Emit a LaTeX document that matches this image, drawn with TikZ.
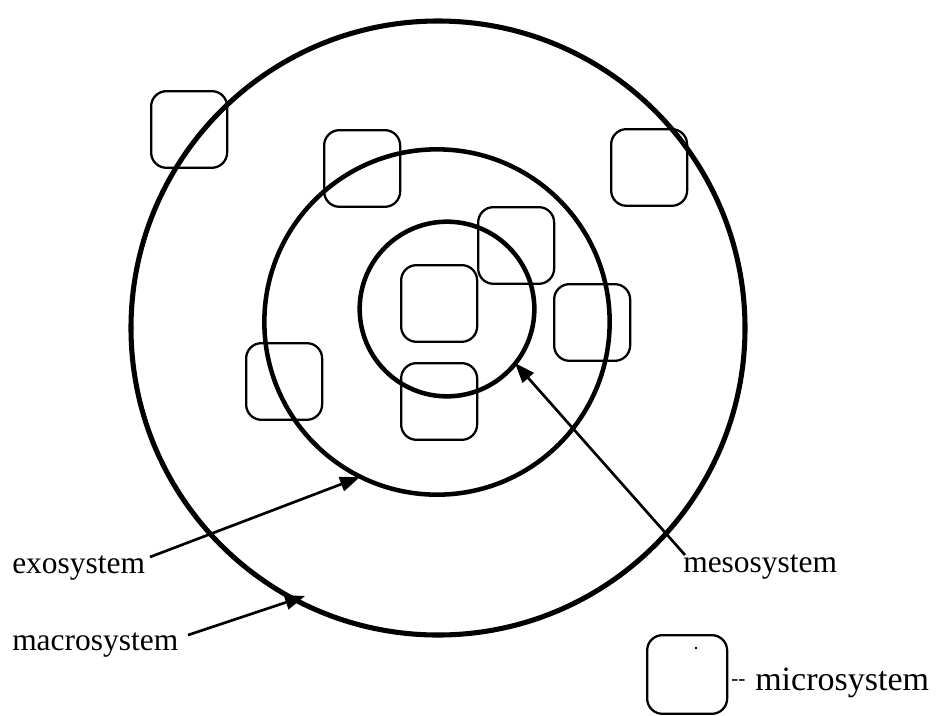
\documentclass[tikz,border=0pt]{standalone}
\usepackage{fontspec}
\setmainfont{Liberation Serif}
\usetikzlibrary{arrows.meta}
\tikzset{
  msys/.style={draw, line width=1.7pt, rounded corners=11.5pt, minimum width=57pt, minimum height=57.5pt, inner sep=0pt, anchor=north west},
  ring/.style={line width=3.4pt},
  outerring/.style={line width=3.8pt},
  lbl/.style={inner sep=0pt, anchor=base west, font=\fontsize{23.6pt}{28pt}\selectfont},
  leg/.style={inner sep=0pt, anchor=base west, font=\fontsize{25.5pt}{30pt}\selectfont},
  pointer/.style={line width=2pt, -{Triangle[length=15pt, width=11pt]}}
}
\begin{document}
\begin{tikzpicture}[x=0.75pt, y=-0.75pt]
\useasboundingbox (0,0) rectangle (944,715);
% circle centres
\coordinate (co) at (438,328);
\coordinate (cm) at (437,322);
\coordinate (ci) at (447,309);
\draw[outerring] (co) circle[radius=230.25pt];
\draw[ring] (cm) circle[radius=129.5pt];
\draw[ring] (ci) circle[radius=65.5pt];
% microsystems
\node[msys] (s1) at (150,90) {};
\node[msys] (s2) at (323,129) {};
\node[msys] (s3) at (610,128) {};
\node[msys] (s4) at (477,206) {};
\node[msys] (s5) at (400,264) {};
\node[msys] (s6) at (553,283) {};
\node[msys] (s7) at (245,342) {};
\node[msys] (s8) at (400,362) {};
% labels
\node[lbl] (exo) at (12,573) {exosystem};
\node[lbl] (macro) at (12,650) {macrosystem};
\node[lbl] (meso) at (683,572) {mesosystem};
% arrows
\coordinate (exoS) at (150,557);
\coordinate (exoT) at (360,477);
\coordinate (macS) at (188,635);
\coordinate (macT) at (305,596);
\coordinate (mesS) at (685,555);
\coordinate (mesT) at (515,363);
\draw[pointer] (exoS) -- (exoT);
\draw[pointer] (macS) -- (macT);
\draw[pointer] (mesS) -- (mesT);
% legend
\node[msys, minimum width=60pt, minimum height=59pt] (legbox) at (646,634) {};
\fill (696,648) circle[radius=1pt];
\node[leg, font=\fontsize{16pt}{20pt}\selectfont] (dash) at (731,685) {-{}-};
\node[leg] (micro) at (755,690) {microsystem};
\end{tikzpicture}
\end{document}
